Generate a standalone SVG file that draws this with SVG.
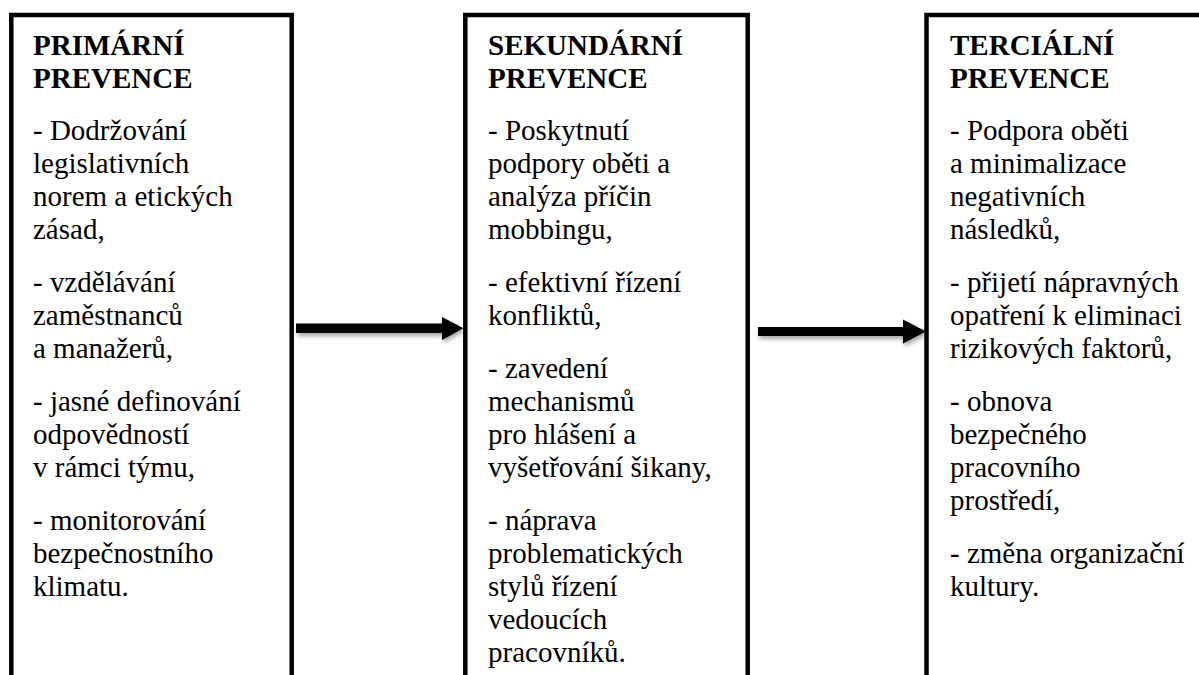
<svg xmlns="http://www.w3.org/2000/svg" width="1199" height="675" viewBox="0 0 1199 675">
  <style>
    .box { fill: #ffffff; stroke: #000000; stroke-width: 4.5; }
    .t { font-family: "Liberation Serif", "Times New Roman", serif; font-size: 29px; fill: #000000; }
    .h { font-weight: bold; }
    .arrow { fill: #000000; filter: url(#shadow); }
  </style>
  <defs>
    <filter id="shadow" x="-10%" y="-50%" width="120%" height="200%">
      <feDropShadow dx="1.5" dy="3" stdDeviation="2" flood-color="#000000" flood-opacity="0.35"/>
    </filter>
  </defs>
  <rect x="0" y="0" width="1199" height="675" fill="#ffffff"/>

  <g id="node-primarni">
    <rect class="box" x="11.3" y="15" width="280.4" height="700"/>
    <text class="t h"><tspan x="33" y="55">PRIMÁRNÍ</tspan><tspan x="33" y="88">PREVENCE</tspan></text>
    <text class="t">
      <tspan x="33" y="140">- Dodržování</tspan>
      <tspan x="33" y="173">legislativních</tspan>
      <tspan x="33" y="206">norem a etických</tspan>
      <tspan x="33" y="239">zásad,</tspan>
      <tspan x="33" y="292">- vzdělávání</tspan>
      <tspan x="33" y="325">zaměstnanců</tspan>
      <tspan x="33" y="358">a manažerů,</tspan>
      <tspan x="33" y="411">- jasné definování</tspan>
      <tspan x="33" y="444">odpovědností</tspan>
      <tspan x="33" y="477">v rámci týmu,</tspan>
      <tspan x="33" y="530">- monitorování</tspan>
      <tspan x="33" y="563">bezpečnostního</tspan>
      <tspan x="33" y="596">klimatu.</tspan>
    </text>
  </g>

  <g id="node-sekundarni">
    <rect class="box" x="465.3" y="15" width="282.4" height="700"/>
    <text class="t h"><tspan x="488" y="55">SEKUNDÁRNÍ</tspan><tspan x="488" y="88">PREVENCE</tspan></text>
    <text class="t">
      <tspan x="488" y="140">- Poskytnutí</tspan>
      <tspan x="488" y="173">podpory oběti a</tspan>
      <tspan x="488" y="206">analýza příčin</tspan>
      <tspan x="488" y="239">mobbingu,</tspan>
      <tspan x="488" y="292">- efektivní řízení</tspan>
      <tspan x="488" y="325">konfliktů,</tspan>
      <tspan x="488" y="378">- zavedení</tspan>
      <tspan x="488" y="411">mechanismů</tspan>
      <tspan x="488" y="444">pro hlášení a</tspan>
      <tspan x="488" y="477">vyšetřování šikany,</tspan>
      <tspan x="488" y="530">- náprava</tspan>
      <tspan x="488" y="563">problematických</tspan>
      <tspan x="488" y="596">stylů řízení</tspan>
      <tspan x="488" y="629">vedoucích</tspan>
      <tspan x="488" y="662">pracovníků.</tspan>
    </text>
  </g>

  <g id="node-tercialni">
    <rect class="box" x="926.5" y="15" width="300" height="700"/>
    <text class="t h"><tspan x="950" y="55">TERCIÁLNÍ</tspan><tspan x="950" y="88">PREVENCE</tspan></text>
    <text class="t">
      <tspan x="950" y="140">- Podpora oběti</tspan>
      <tspan x="950" y="173">a minimalizace</tspan>
      <tspan x="950" y="206">negativních</tspan>
      <tspan x="950" y="239">následků,</tspan>
      <tspan x="950" y="292">- přijetí nápravných</tspan>
      <tspan x="950" y="325">opatření k eliminaci</tspan>
      <tspan x="950" y="358">rizikových faktorů,</tspan>
      <tspan x="950" y="411">- obnova</tspan>
      <tspan x="950" y="444">bezpečného</tspan>
      <tspan x="950" y="477">pracovního</tspan>
      <tspan x="950" y="510">prostředí,</tspan>
      <tspan x="950" y="563">- změna organizační</tspan>
      <tspan x="950" y="596">kultury.</tspan>
    </text>
  </g>

  <g id="connectors">
    <path class="arrow" d="M296,323.5 L442,323.5 L442,317 L463.5,328.3 L442,340 L442,333 L296,333 Z"/>
    <path class="arrow" d="M758,327 L903,327 L903,319.5 L926,331.5 L903,343.5 L903,336 L758,336 Z"/>
  </g>
</svg>
